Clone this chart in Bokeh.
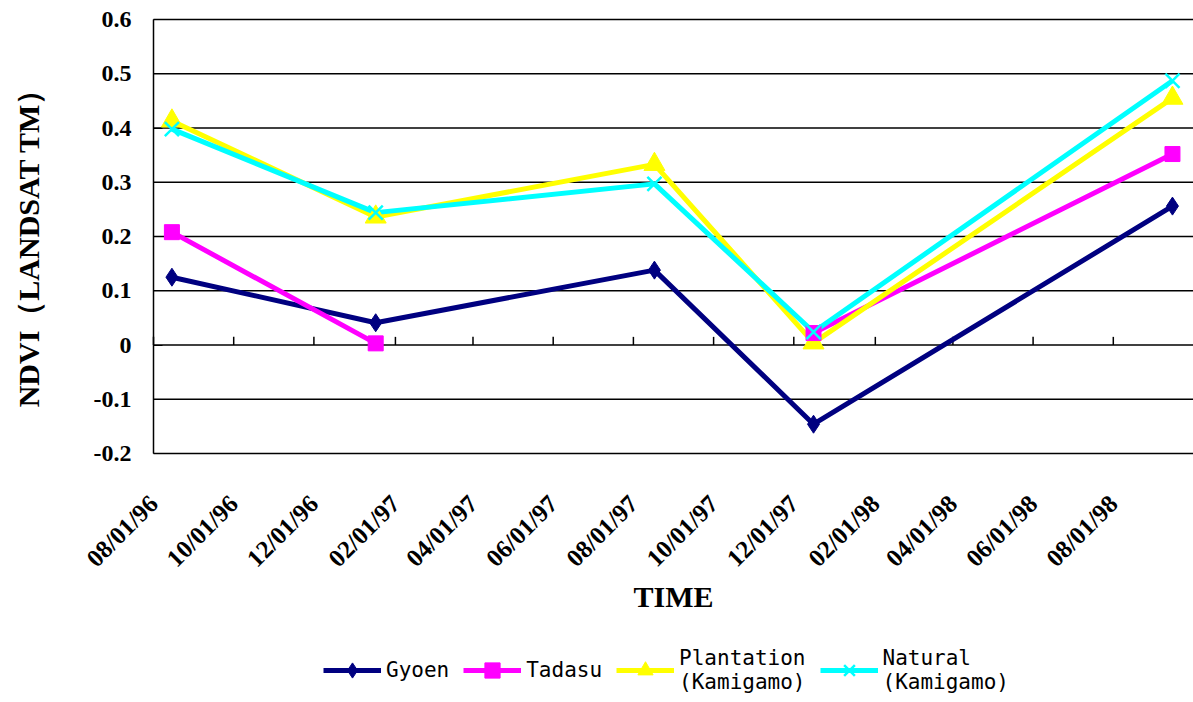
import numpy as np
import pandas as pd
from math import pi
from bokeh.plotting import figure
from bokeh.models import (FixedTicker, DatetimeTickFormatter, NumeralTickFormatter,
                          Legend, LegendItem, Range1d, Label)
from bokeh.embed import file_html
from bokeh.resources import INLINE

# ---- data ----
dates = ["1996-08-15", "1997-01-17", "1997-08-17", "1997-12-16", "1998-09-15"]
gyoen = [0.125, 0.041, 0.138, -0.146, 0.256]
tadasu = [0.208, 0.003, np.nan, 0.022, 0.352]
plantation = [0.413, 0.236, 0.333, 0.004, 0.455]
natural = [0.398, 0.244, 0.297, 0.024, 0.487]

tick_dates = ["1996-08-01", "1996-10-01", "1996-12-01", "1997-02-01", "1997-04-01",
              "1997-06-01", "1997-08-01", "1997-10-01", "1997-12-01", "1998-02-01",
              "1998-04-01", "1998-06-01", "1998-08-01"]
x_start, x_end = "1996-08-01", "1998-10-01"
y_ticks = [-0.2, -0.1, 0.0, 0.1, 0.2, 0.3, 0.4, 0.5, 0.6]

series_names = ["Gyoen", "Tadasu", "Plantation\n(Kamigamo)", "Natural\n(Kamigamo)"]
series_values = [gyoen, tadasu, plantation, natural]
series_colors = ["#000080", "#FF00FF", "#FFFF00", "#00FFFF"]
series_markers = ["diamond", "square", "triangle", "x"]
marker_sizes = [18, 15, 21, 20]

x = pd.to_datetime(dates)
ticks = pd.to_datetime(tick_dates)
tick_ms = [t.timestamp() * 1000 for t in ticks]
xs_ms = pd.Timestamp(x_start).timestamp() * 1000
xe_ms = pd.Timestamp(x_end).timestamp() * 1000

# ---- layout (pixels) ----
W, H = 1193, 702
PLOT_L, PLOT_T, PLOT_B = 153, 19, 453       # plotting area inside the canvas
# the frame covers the whole canvas; ranges are widened so that the
# plotting area lands at the right place
ms_per_px = (xe_ms - xs_ms) / (W - PLOT_L)
u_per_px = (y_ticks[-1] - y_ticks[0]) / (PLOT_B - PLOT_T)
x_lo = xs_ms - PLOT_L * ms_per_px
y_hi = y_ticks[-1] + PLOT_T * u_per_px
y_lo = y_ticks[0] - (H - PLOT_B) * u_per_px

p = figure(width=W, height=H, x_axis_type="datetime",
           output_backend="svg", toolbar_location=None,
           x_range=Range1d(x_lo, xe_ms), y_range=Range1d(y_lo, y_hi),
           min_border_left=0, min_border_right=0, min_border_top=0,
           min_border_bottom=0)
p.outline_line_color = None
p.background_fill_color = "white"
p.xgrid.visible = False
p.ygrid.visible = False

# horizontal grid lines across the plotting area
n = len(y_ticks)
p.segment(x0=[xs_ms] * n, x1=[xe_ms] * n, y0=y_ticks, y1=y_ticks,
          line_color="black", line_width=1.3)

# y axis at the left of the plotting area
yax = p.yaxis[0]
yax.fixed_location = xs_ms
yax.bounds = (y_ticks[0], y_ticks[-1])
yax.ticker = FixedTicker(ticks=y_ticks)
yax.formatter = NumeralTickFormatter(format="0.[0]")
yax.axis_line_color = "black"
yax.axis_line_width = 1.5
yax.major_tick_in = 9
yax.major_tick_out = 0
yax.minor_tick_line_color = None
yax.major_label_standoff = 22
yax.major_label_text_font = "Liberation Serif"
yax.major_label_text_font_style = "bold"
yax.major_label_text_font_size = "24px"
yax.major_label_text_color = "black"

# x axis at the bottom of the plotting area (y = -0.2)
xax = p.xaxis[0]
xax.fixed_location = y_ticks[0]
xax.ticker = FixedTicker(ticks=tick_ms)
fmt = "%m/%d/%y"
xax.formatter = DatetimeTickFormatter(days=fmt, months=fmt, years=fmt, hours=fmt,
                                      minutes=fmt, seconds=fmt, milliseconds=fmt,
                                      minsec=fmt, hourmin=fmt)
xax.axis_line_color = None
xax.major_tick_line_color = None
xax.minor_tick_line_color = None
xax.major_label_orientation = pi / 4
xax.major_label_standoff = 40
xax.major_label_text_font = "Liberation Serif"
xax.major_label_text_font_style = "bold"
xax.major_label_text_font_size = "25px"
xax.major_label_text_color = "black"

# axis titles
p.add_layout(Label(x=28, y=H - (PLOT_T + PLOT_B) / 2 - 4, x_units="screen", y_units="screen",
                   text="NDVI（LANDSAT TM）", angle=pi / 2, text_align="center",
                   text_baseline="middle", text_font="Liberation Serif",
                   text_font_style="bold", text_font_size="30px", text_color="black"))
p.add_layout(Label(x=(PLOT_L + W) / 2, y=H - 596, x_units="screen", y_units="screen",
                   text="TIME", text_align="center", text_baseline="middle",
                   text_font="Liberation Serif", text_font_style="bold",
                   text_font_size="30px", text_color="black"))

# tick marks on the zero line (category axis crosses at 0)
p.segment(x0=ticks, x1=ticks, y0=[0] * len(ticks), y1=[0.015] * len(ticks),
          line_color="black", line_width=1.5)

# lines first, then markers
line_rs = []
for vals, col in zip(series_values, series_colors):
    line_rs.append(p.line(x, vals, line_color=col, line_width=5, line_join="round"))

marker_rs = [None] * 4
for i in [0, 2, 1, 3]:
    vals, col, mk, sz = series_values[i], series_colors[i], series_markers[i], marker_sizes[i]
    if mk == "x":
        r = p.scatter(x, vals, marker=mk, size=sz, line_color=col, line_width=2.5)
    else:
        r = p.scatter(x, vals, marker=mk, size=sz, fill_color=col, line_color=col)
    marker_rs[i] = r

items = [LegendItem(label=nm, renderers=[lr, mr])
         for nm, lr, mr in zip(series_names, line_rs, marker_rs)]
legend = Legend(items=items, orientation="horizontal", location=(PLOT_L + 170, 8),
                glyph_width=58, glyph_height=38, label_standoff=5, spacing=14,
                padding=0, margin=0, border_line_color=None,
                background_fill_alpha=0,
                label_text_font="DejaVu Sans Mono", label_text_font_size="21px",
                label_text_color="black", label_text_line_height=1.35)
p.add_layout(legend, "center")

open("out.html", "w").write(file_html(p, INLINE))
